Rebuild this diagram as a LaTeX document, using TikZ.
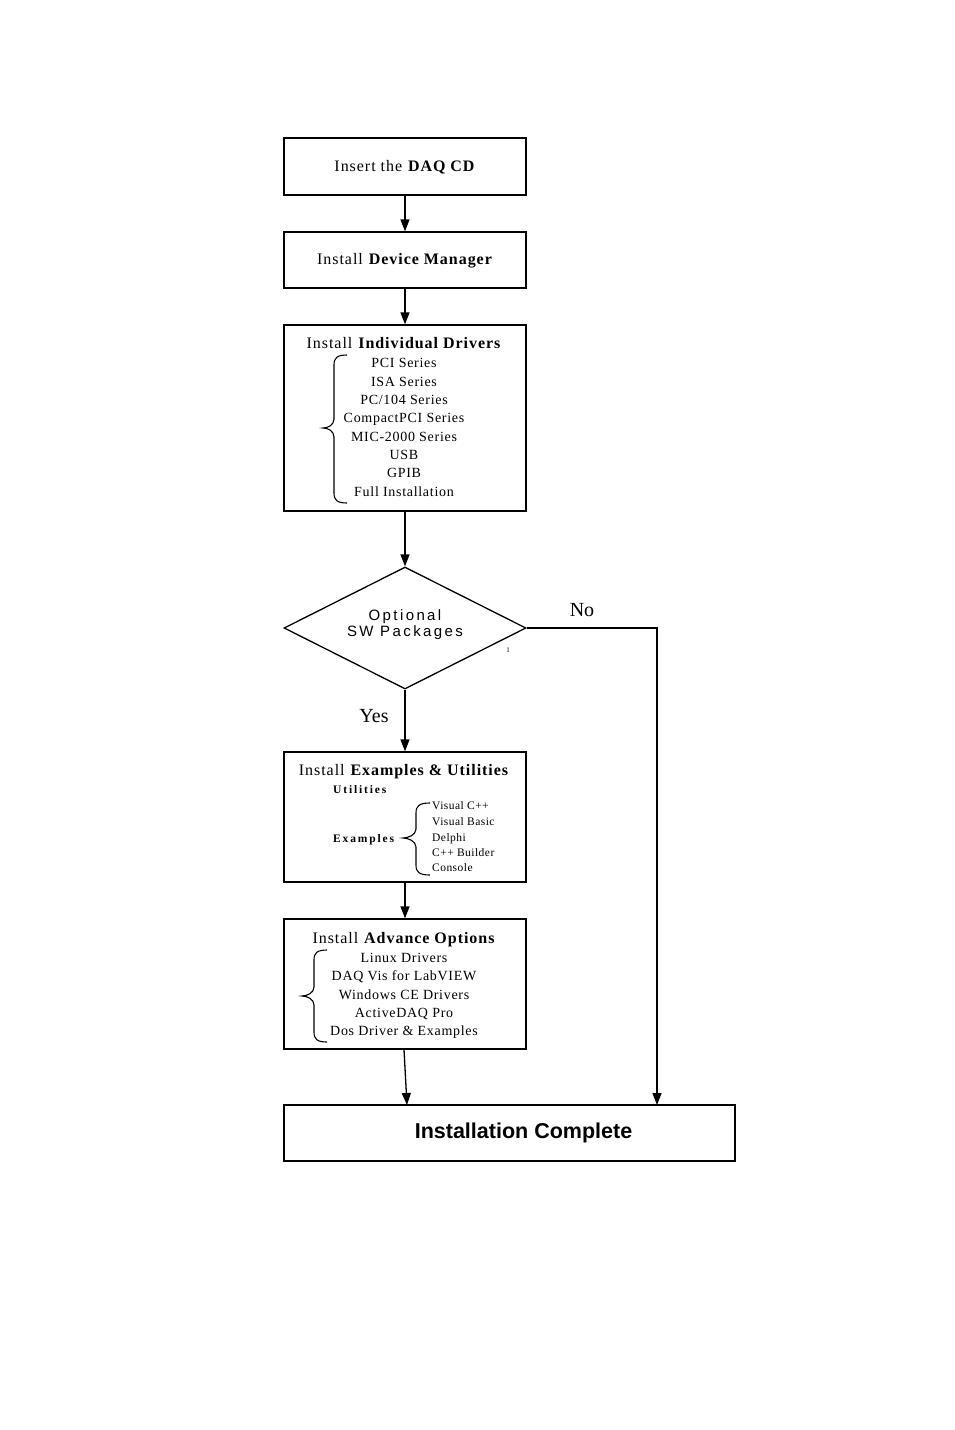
\documentclass[tikz,border=0pt]{standalone}
\usepackage{fontspec}
\setmainfont{Liberation Serif}
\newfontfamily\tnr[LetterSpace=6]{Liberation Serif}
\newfontfamily\tnri[LetterSpace=5]{Liberation Serif}
\newfontfamily\tnrs[LetterSpace=4]{Liberation Serif}
\newfontfamily\tnrw[LetterSpace=16]{Liberation Serif}
\newfontfamily\arl[LetterSpace=16]{Liberation Sans}
\newfontfamily\arlb{Liberation Sans}
\usetikzlibrary{shapes.geometric,arrows.meta}
\newcommand{\mybrace}[6]{% xr, xm, xtip, top, mid, bottom
  \draw[brc] (#1,#4) .. controls (#2+3,#4) and (#2,#4+3) .. (#2,#4+10) -- (#2,#5-9)
    .. controls (#2,#5-3) and (#3+5,#5) .. (#3,#5)
    .. controls (#3+5,#5) and (#2,#5+3) .. (#2,#5+9) -- (#2,#6-10)
    .. controls (#2,#6-3) and (#2+3,#6) .. (#1,#6);}
\begin{document}
\begin{tikzpicture}[x=1pt,y=-1pt,
  box/.style={draw,line width=1.3pt,minimum width=242pt,inner sep=0pt},
  arr/.style={line width=1.3pt,-{Triangle[length=12pt,width=9pt]}},
  brc/.style={line width=1.1pt},
  title/.style={font=\fontsize{16}{18}\selectfont\tnr,inner sep=0pt,text height=11pt,text depth=3.5pt,yshift=-2pt},
  item/.style={font=\fontsize{14}{16}\selectfont\tnri,inner sep=0pt,text height=9.5pt,text depth=3pt,yshift=-1.5pt},
  small/.style={font=\fontsize{11.5}{13}\selectfont\tnrs,inner sep=0pt,anchor=west,text height=8pt,text depth=2.5pt,yshift=-1.5pt},
  smallb/.style={small,font=\fontsize{11.5}{13}\selectfont\tnrw\bfseries},
  lab/.style={font=\fontsize{20}{22}\selectfont,inner sep=0pt}]
\useasboundingbox (0,0) rectangle (954,1430);
% boxes
\node[box,minimum height=57pt] (b1) at (405,166.5) {};
\node[box,minimum height=56pt] (b2) at (405,260) {};
\node[box,minimum height=186pt] (b3) at (405,418) {};
\node[draw,shape=diamond,line width=1.3pt,minimum width=242pt,minimum height=122pt,inner sep=0pt] (dia) at (405,628) {};
\node[box,minimum height=130pt] (b4) at (405,817) {};
\node[box,minimum height=130pt] (b5) at (405,984) {};
\node[box,minimum width=451pt,minimum height=56pt] (b6) at (509.5,1133) {};
% box texts
\node[title] (t1) at (405,166) {Insert the \textbf{DAQ CD}};
\node[title] (t2) at (405,259) {Install \textbf{Device Manager}};
\node[title] (t3) at (404,343) {Install \textbf{Individual Drivers}};
\node[item] (i31) at (404,363) {PCI Series};
\node[item] (i32) at (404,382) {ISA Series};
\node[item] (i33) at (404,400) {PC/104 Series};
\node[item] (i34) at (404,418) {CompactPCI Series};
\node[item] (i35) at (404,437) {MIC-2000 Series};
\node[item] (i36) at (404,455) {USB};
\node[item] (i37) at (404,473) {GPIB};
\node[item] (i38) at (404,492) {Full Installation};
\mybrace{347}{334}{323}{355}{428}{503}
% diamond text
\node[font=\fontsize{15}{16}\selectfont\arl,align=center,inner sep=0pt] (dt) at (405,625) {Optional\\SW Packages};
\node[font=\fontsize{7}{8}\selectfont,inner sep=0pt] (one) at (508,650) {1};
% box 4
\node[title] (t4) at (404,770) {Install \textbf{Examples \& Utilities}};
\node[smallb] (u4) at (333,789) {Utilities};
\node[smallb] (e4) at (333,838) {Examples};
\mybrace{430}{416}{403}{803}{838}{875}
\node[small] (v1) at (432,805) {Visual C++};
\node[small] (v2) at (432,821) {Visual Basic};
\node[small] (v3) at (432,837) {Delphi};
\node[small] (v4) at (432,852) {C++ Builder};
\node[small] (v5) at (432,867) {Console};
% box 5
\node[title] (t5) at (404,938) {Install \textbf{Advance Options}};
\node[item] (i51) at (404,958) {Linux Drivers};
\node[item] (i52) at (404,976) {DAQ Vis for LabVIEW};
\node[item] (i53) at (404,995) {Windows CE Drivers};
\node[item] (i54) at (404,1013) {ActiveDAQ Pro};
\node[item] (i55) at (404,1031) {Dos Driver \& Examples};
\mybrace{327}{314}{302}{950}{996}{1042}
% box 6
\node[font=\fontsize{21.5}{24}\selectfont\arlb\bfseries,inner sep=0pt] (t6) at (523.5,1133) {Installation Complete};
% labels
\node[lab] (no) at (582,610) {No};
\node[lab] (yes) at (374,716) {Yes};
% connectors
\coordinate (in6) at (407,1105);
\coordinate (noin) at (657,1105);
\draw[arr] (b1.south) -- (b2.north);
\draw[arr] (b2.south) -- (b3.north);
\draw[arr] (b3.south) -- (dia.north);
\draw[arr] (dia.south) -- (b4.north);
\draw[arr] (b4.south) -- (b5.north);
\draw[arr] ([xshift=-1pt]b5.south) -- (in6);
\draw[arr] (dia.east) -| (noin);
\end{tikzpicture}
\end{document}
